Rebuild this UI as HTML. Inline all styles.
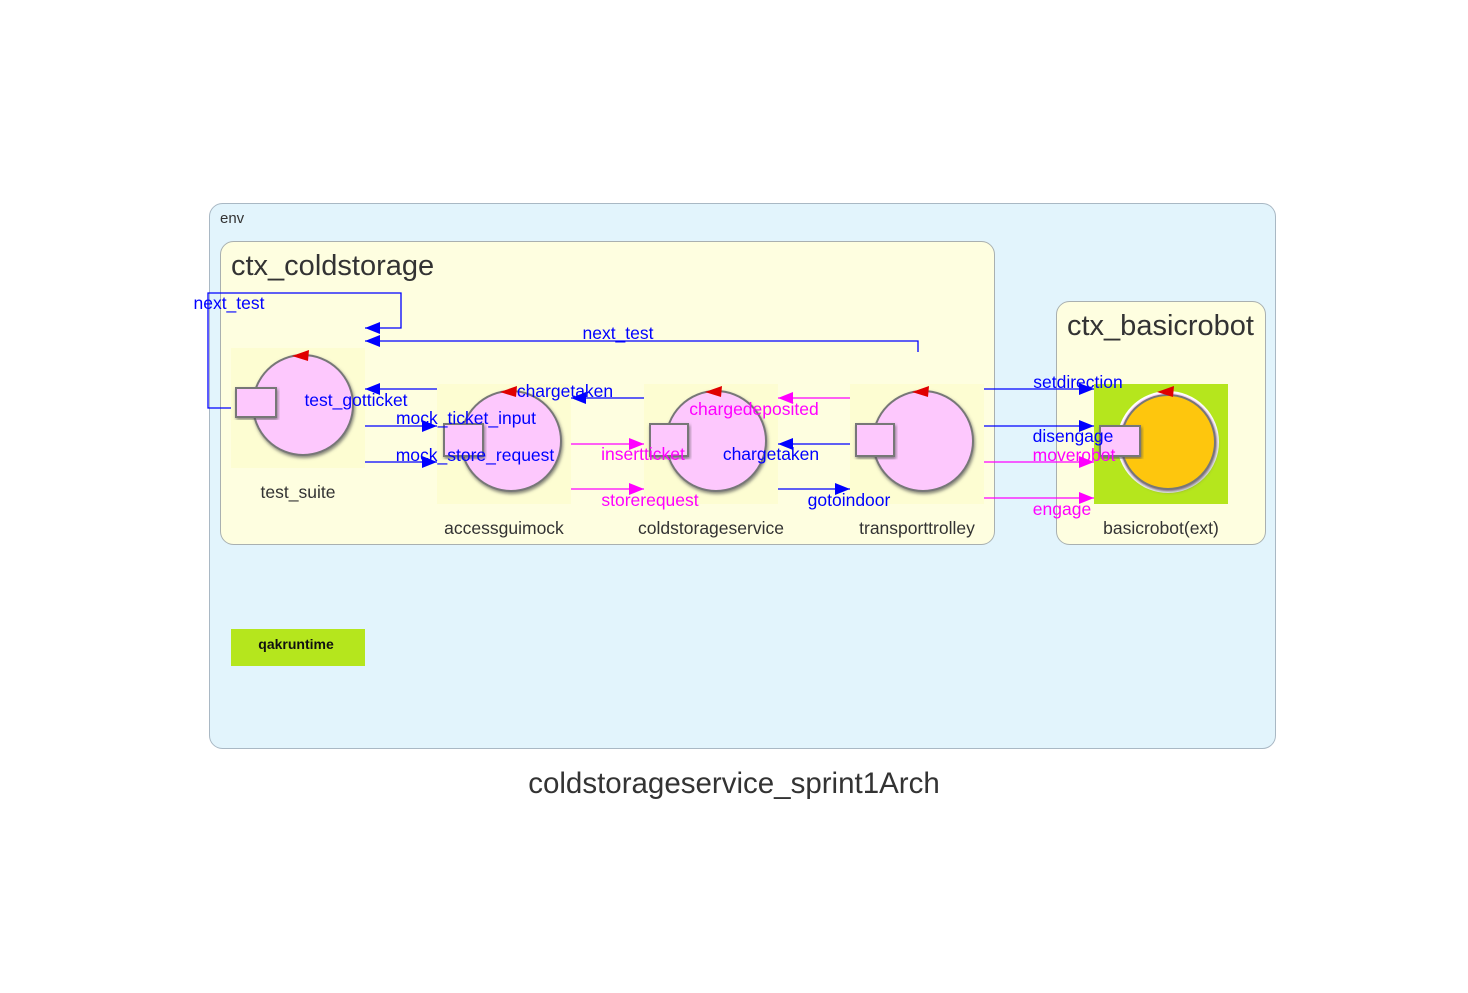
<!DOCTYPE html>
<html><head><meta charset="utf-8"><style>
html,body{margin:0;padding:0;background:#fff;}
svg{display:block;font-family:"Liberation Sans",sans-serif;}
</style></head><body>
<svg width="1468" height="993" viewBox="0 0 1468 993" xmlns="http://www.w3.org/2000/svg">
<defs>
<marker id="ab" markerWidth="15" markerHeight="12" refX="15" refY="6" orient="auto" markerUnits="userSpaceOnUse"><path d="M0,0 L15,6 L0,12z" fill="#0000ff"/></marker>
<marker id="am" markerWidth="15" markerHeight="12" refX="15" refY="6" orient="auto" markerUnits="userSpaceOnUse"><path d="M0,0 L15,6 L0,12z" fill="#ff00ff"/></marker>
<filter id="sh"><feDropShadow dx="1" dy="2" stdDeviation="1.5" flood-color="#555" flood-opacity="0.7"/></filter>
</defs>
<rect x="209.5" y="203.5" width="1066" height="545" rx="13" fill="#e2f4fc" stroke="#a9b8c4"/>
<text x="220" y="223" font-size="15" fill="#333">env</text>
<rect x="220.5" y="241.5" width="774" height="303" rx="13" fill="#fefee0" stroke="#a9b0b0"/>
<text x="231" y="275" font-size="29" fill="#333">ctx_coldstorage</text>
<rect x="1056.5" y="301.5" width="209" height="243" rx="13" fill="#fefee0" stroke="#a9b0b0"/>
<text x="1067" y="335" font-size="29" fill="#333">ctx_basicrobot</text>
<rect x="231" y="629" width="134" height="37" fill="#b5e61d"/>
<text x="296" y="649" font-size="14" font-weight="bold" text-anchor="middle" fill="#111">qakruntime</text>

<g>
<rect x="231" y="348" width="134" height="120" fill="#fdfdd2"/>
<circle cx="303" cy="405" r="50" fill="#fdc8fd" stroke="#777" stroke-width="2" filter="url(#sh)"/>
<rect x="236" y="388" width="40" height="29" fill="#fdc8fd" stroke="#777" stroke-width="2" filter="url(#sh)"/>
<path d="M292,356 L309,350 L308,361z" fill="#e00000"/>
<text x="298" y="498" font-size="17.5" text-anchor="middle" fill="#333">test_suite</text>
</g>
<g>
<rect x="437" y="384" width="134" height="120" fill="#fdfdd2"/>
<circle cx="511" cy="441" r="50" fill="#fdc8fd" stroke="#777" stroke-width="2" filter="url(#sh)"/>
<rect x="444" y="424" width="39" height="32" fill="#fdc8fd" stroke="#777" stroke-width="2" filter="url(#sh)"/>
<path d="M500,392 L517,386 L516,397z" fill="#e00000"/>
<text x="504" y="534" font-size="17.5" text-anchor="middle" fill="#333">accessguimock</text>
</g>
<g>
<rect x="644" y="384" width="134" height="120" fill="#fdfdd2"/>
<circle cx="716" cy="441" r="50" fill="#fdc8fd" stroke="#777" stroke-width="2" filter="url(#sh)"/>
<rect x="650" y="424" width="38" height="32" fill="#fdc8fd" stroke="#777" stroke-width="2" filter="url(#sh)"/>
<path d="M705,392 L722,386 L721,397z" fill="#e00000"/>
<text x="711" y="534" font-size="17.5" text-anchor="middle" fill="#333">coldstorageservice</text>
</g>
<g>
<rect x="850" y="384" width="134" height="120" fill="#fdfdd2"/>
<circle cx="923" cy="441" r="50" fill="#fdc8fd" stroke="#777" stroke-width="2" filter="url(#sh)"/>
<rect x="856" y="424" width="38" height="32" fill="#fdc8fd" stroke="#777" stroke-width="2" filter="url(#sh)"/>
<path d="M912,392 L929,386 L928,397z" fill="#e00000"/>
<text x="917" y="534" font-size="17.5" text-anchor="middle" fill="#333">transporttrolley</text>
</g>
<g>
<rect x="1094" y="384" width="134" height="120" fill="#b5e61d"/>
<circle cx="1168" cy="442" r="50" fill="#fdc8fd" stroke="#fff" stroke-width="2"/>
<circle cx="1168" cy="442" r="47" fill="#fec610" stroke="#777" stroke-width="2" filter="url(#sh)"/>
<rect x="1100" y="426" width="40" height="30" fill="#fdc8fd" stroke="#777" stroke-width="2" filter="url(#sh)"/>
<path d="M1157,392 L1174,386 L1173,397z" fill="#e00000"/>
<text x="1161" y="534" font-size="17.5" text-anchor="middle" fill="#333">basicrobot(ext)</text>
</g>

<g fill="none" stroke-width="1.3">
<path d="M231,408 H208 V293 H401 V328 H365" stroke="#0000ff" marker-end="url(#ab)"/>
<path d="M918,352 V341 H365" stroke="#0000ff" marker-end="url(#ab)"/>
<path d="M437,389 H365" stroke="#0000ff" marker-end="url(#ab)"/>
<path d="M365,426 H437" stroke="#0000ff" marker-end="url(#ab)"/>
<path d="M365,462 H437" stroke="#0000ff" marker-end="url(#ab)"/>
<path d="M644,398 H571" stroke="#0000ff" marker-end="url(#ab)"/>
<path d="M571,444 H644" stroke="#ff00ff" marker-end="url(#am)"/>
<path d="M571,489 H644" stroke="#ff00ff" marker-end="url(#am)"/>
<path d="M850,398 H778" stroke="#ff00ff" marker-end="url(#am)"/>
<path d="M850,444 H778" stroke="#0000ff" marker-end="url(#ab)"/>
<path d="M778,489 H850" stroke="#0000ff" marker-end="url(#ab)"/>
<path d="M984,389 H1094" stroke="#0000ff" marker-end="url(#ab)"/>
<path d="M984,426 H1094" stroke="#0000ff" marker-end="url(#ab)"/>
<path d="M984,462 H1094" stroke="#ff00ff" marker-end="url(#am)"/>
<path d="M984,498 H1094" stroke="#ff00ff" marker-end="url(#am)"/>
</g>
<g font-size="17.5" text-anchor="middle">
<text x="229" y="309" fill="#0000ff">next_test</text>
<text x="618" y="339" fill="#0000ff">next_test</text>
<text x="356" y="406" fill="#0000ff">test_gotticket</text>
<text x="466" y="424" fill="#0000ff">mock_ticket_input</text>
<text x="475" y="461" fill="#0000ff">mock_store_request</text>
<text x="565" y="397" fill="#0000ff">chargetaken</text>
<text x="643" y="460" fill="#ff00ff">insertticket</text>
<text x="650" y="506" fill="#ff00ff">storerequest</text>
<text x="754" y="415" fill="#ff00ff">chargedeposited</text>
<text x="771" y="460" fill="#0000ff">chargetaken</text>
<text x="849" y="506" fill="#0000ff">gotoindoor</text>
<text x="1078" y="388" fill="#0000ff">setdirection</text>
<text x="1073" y="442" fill="#0000ff">disengage</text>
<text x="1074" y="461" fill="#ff00ff">moverobot</text>
<text x="1062" y="515" fill="#ff00ff">engage</text>
</g>
<text x="734" y="793" font-size="29.5" text-anchor="middle" fill="#333">coldstorageservice_sprint1Arch</text>
</svg>
</body></html>
